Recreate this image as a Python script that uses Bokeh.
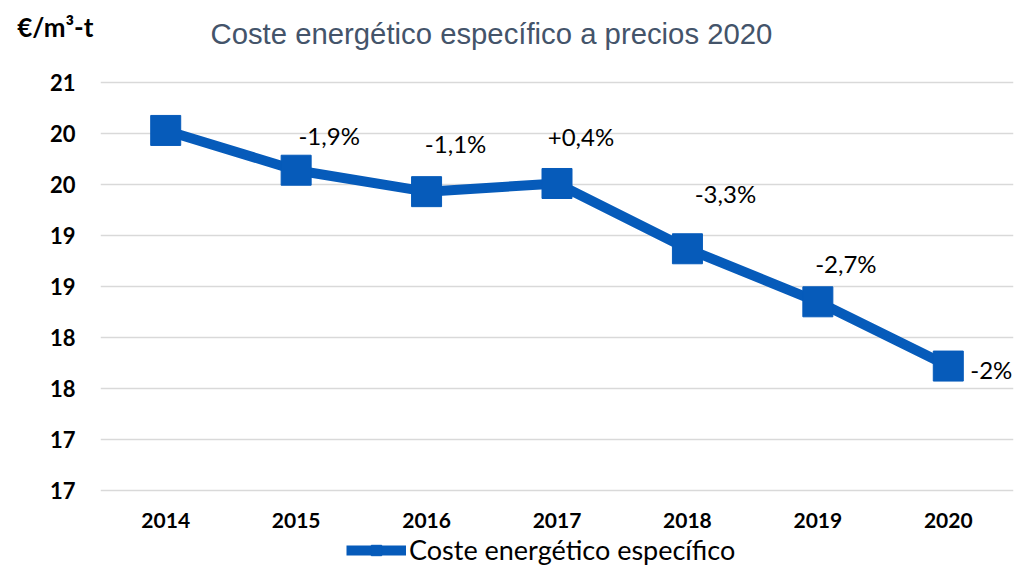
from bokeh.plotting import figure
from bokeh.models import (FactorRange, Range1d, FixedTicker, ColumnDataSource,
                          LabelSet, Label, LinearAxis)
from bokeh.core.properties import value
from bokeh.embed import file_html
from bokeh.resources import INLINE

# ---- data ----
years = ["2014", "2015", "2016", "2017", "2018", "2019", "2020"]
coste = [20.53, 20.14, 19.93, 20.01, 19.37, 18.85, 18.22]
variacion = ["", "-1,9%", "-1,1%", "+0,4%", "-3,3%", "-2,7%", "-2%"]
y_ticks = [17, 17.5, 18, 18.5, 19, 19.5, 20, 20.5, 21]
y_tick_labels = ["17", "17", "18", "18", "19", "19", "20", "20", "21"]
serie = "Coste energético específico"
titulo = "Coste energético específico a precios 2020"
unidad = "€/m³-t"

# ---- layout / style (not data) ----
# the frame covers the full height so that title, unit and legend are drawn inside it
Y_VIEW = (16.255, 21.804)      # visible y window (gridlines only 17..21)
UNIT_POS = 21.549              # height of the unit label on the value scale
label_dx = [0, 33, 29, 24, 38, 28, 43]
label_dy = [0, 35, 48, 47, 55, 38, -3]
BLUE = "#065BBA"

p = figure(width=1014, height=566,
           x_range=FactorRange(*years), y_range=Range1d(*Y_VIEW),
           output_backend="svg", toolbar_location=None,
           min_border_left=100, min_border_right=1,
           min_border_top=0, min_border_bottom=0)
p.outline_line_color = None
p.background_fill_color = "white"
p.border_fill_color = "white"

ticker = FixedTicker(ticks=y_ticks)
p.yaxis.ticker = ticker
p.ygrid.ticker = ticker
p.yaxis.major_label_overrides = dict(zip(y_ticks, y_tick_labels))
p.ygrid.grid_line_color = "#D9D9D9"
p.ygrid.grid_line_width = 1.5
p.xgrid.grid_line_color = None

unit_axis = LinearAxis(ticker=FixedTicker(ticks=[UNIT_POS]),
                       major_label_overrides={UNIT_POS: unidad})
p.add_layout(unit_axis, "left")

for ax in (p.xaxis[0], p.yaxis[0], unit_axis):
    ax.axis_line_color = None
    ax.major_tick_line_color = None
    ax.minor_tick_line_color = None
    ax.major_tick_out = 0
    ax.major_tick_in = 0
    ax.major_label_text_font = "Lato"
    ax.major_label_text_font_style = "bold"
    ax.major_label_text_color = "black"
p.yaxis[0].major_label_text_font_size = "22px"
p.yaxis[0].major_label_standoff = 25
unit_axis.major_label_text_font_size = "26px"
unit_axis.major_label_standoff = -47
p.xaxis[0].major_label_text_font_size = "21px"
p.xaxis[0].major_label_standoff = -54

src = ColumnDataSource(dict(year=years, coste=coste, lab=variacion,
                            dx=label_dx, dy=label_dy))

p.line("year", "coste", source=src, line_width=10, line_color=BLUE,
       legend_label=serie)
p.scatter("year", "coste", source=src, marker="square", size=30,
          fill_color=BLUE, line_color=BLUE, legend_label=serie)

labels = LabelSet(x="year", y="coste", text="lab", source=src,
                  x_offset="dx", y_offset="dy",
                  text_align="center", text_baseline="middle",
                  text_font=value("Lato"), text_font_size=value("24px"),
                  text_color="black")
p.add_layout(labels)

title = Label(x=110, y=533, x_units="screen", y_units="screen", text=titulo,
              text_font="Liberation Sans", text_font_size="29.3px",
              text_color="#44546A", text_baseline="alphabetic", text_align="left")
p.add_layout(title)

lg = p.legend[0]
lg.location = (246, 0)
lg.orientation = "horizontal"
lg.background_fill_alpha = 0
lg.border_line_color = None
lg.padding = 0
lg.margin = 0
lg.glyph_width = 60
lg.glyph_height = 26
lg.label_height = 26
lg.label_standoff = 3
lg.label_text_font = "Lato"
lg.label_text_font_size = "27px"
lg.label_text_color = "black"

open("out.html", "w").write(file_html(p, INLINE))
